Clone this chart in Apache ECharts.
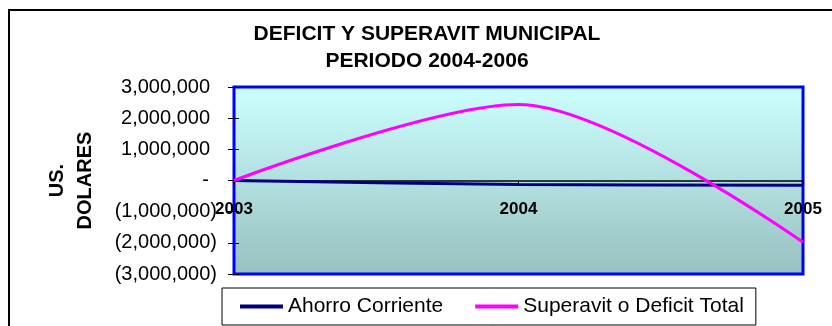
<!DOCTYPE html>
<html>
<head>
<meta charset="utf-8">
<script src="https://cdn.jsdelivr.net/npm/echarts@6/dist/echarts.min.js"></script>
<style>
  html, body { margin: 0; padding: 0; background: #ffffff; }
  #chart { width: 832px; height: 326px; }
</style>
</head>
<body>
<div id="chart"></div>
<script>
// Years on the horizontal axis
const years = ['2003', '2004', '2005'];
// Current savings (US$)
const ahorroCorriente = [0, -130000, -150000];
// Total surplus / deficit (US$)
const superavitTotal = [0, 2440000, -1980000];
// Value axis range and step
const yMin = -3000000;
const yMax = 3000000;
const yStep = 1000000;

const FONT = '"Liberation Sans", Arial, sans-serif';

// Plot area box
const GRID = { left: 234, right: 29, top: 87, bottom: 52 };
const CHART_H = 326;
// Category axis sits on the zero line: shift it up from the bottom edge
const plotH = CHART_H - GRID.top - GRID.bottom;
const zeroOffset = -plotH * (0 - yMin) / (yMax - yMin);

// Accounting-style number: 1,000,000 / (1,000,000) / -
function accounting(v) {
  if (v === 0) return '{z|-}';
  const s = Math.abs(v).toString().replace(/\B(?=(\d{3})+(?!\d))/g, ',');
  return v < 0 ? '{n|(' + s + ')}' : '{p|' + s + '}';
}

const chart = echarts.init(document.getElementById('chart'), null, { renderer: 'canvas' });

const labelRich = {
  p: { fontFamily: FONT, fontSize: 20, color: '#000', padding: [0, 7, 0, 0] },
  n: { fontFamily: FONT, fontSize: 20, color: '#000' },
  z: { fontFamily: FONT, fontSize: 20, color: '#000', padding: [0, 8, 0, 0] }
};

chart.setOption({
  animation: false,
  backgroundColor: '#ffffff',
  title: {
    text: 'DEFICIT Y SUPERAVIT MUNICIPAL\nPERIODO 2004-2006',
    left: 427,
    top: 21,
    padding: 0,
    textAlign: 'center',
    textStyle: {
      fontFamily: FONT,
      fontWeight: 'bold',
      fontSize: 21,
      lineHeight: 27,
      color: '#000'
    }
  },
  graphic: [{
    type: 'rect',
    shape: { x: 9, y: 10, width: 900, height: 400 },
    style: { fill: null, stroke: '#000', lineWidth: 2 },
    silent: true,
    z: -1
  }],
  legend: {
    left: 222,
    top: 288,
    padding: [8, 12, 8, 18],
    borderColor: '#000',
    borderWidth: 1,
    itemGap: 32,
    itemWidth: 43,
    itemHeight: 4,
    icon: 'rect',
    textStyle: { fontFamily: FONT, fontSize: 21, color: '#000' },
    data: ['Ahorro Corriente', 'Superavit o Deficit Total']
  },
  grid: {
    left: GRID.left,
    right: GRID.right,
    top: GRID.top,
    bottom: GRID.bottom,
    show: true,
    borderColor: '#0000ff',
    borderWidth: 3,
    backgroundColor: {
      type: 'linear', x: 0, y: 0, x2: 0, y2: 1,
      colorStops: [
        { offset: 0, color: '#ccffff' },
        { offset: 1, color: '#98c0c0' }
      ]
    }
  },
  xAxis: {
    type: 'category',
    data: years,
    boundaryGap: false,
    position: 'bottom',
    offset: zeroOffset,
    axisLine: { onZero: false, lineStyle: { color: '#000', width: 1.5 } },
    axisTick: { show: true, length: 4, lineStyle: { color: '#000' } },
    axisLabel: {
      margin: 20,
      fontFamily: FONT,
      fontSize: 17,
      fontWeight: 'bold',
      color: '#000'
    },
    splitLine: { show: false }
  },
  yAxis: [{
    type: 'value',
    min: yMin,
    max: yMax,
    interval: yStep,
    name: 'US.\nDOLARES',
    nameLocation: 'middle',
    nameRotate: 90,
    nameGap: 135,
    nameTextStyle: {
      fontFamily: FONT,
      fontWeight: 'bold',
      fontSize: 20,
      lineHeight: 28,
      color: '#000'
    },
    axisLine: { show: false },
    axisTick: { show: true, length: 6, lineStyle: { color: '#000' } },
    axisLabel: { margin: 17, formatter: accounting, rich: labelRich },
    splitLine: { show: false }
  }, {
    // companion axis: tick marks on the inner side of the plot edge
    type: 'value',
    position: 'left',
    min: yMin,
    max: yMax,
    interval: yStep,
    axisLine: { show: false },
    axisTick: { show: true, inside: true, length: 5, lineStyle: { color: '#000' } },
    axisLabel: { show: false },
    splitLine: { show: false }
  }],
  series: [{
    name: 'Ahorro Corriente',
    type: 'line',
    data: ahorroCorriente,
    smooth: 0.3,
    showSymbol: false,
    symbol: 'none',
    lineStyle: { color: '#000080', width: 3 },
    itemStyle: { color: '#000080' }
  }, {
    name: 'Superavit o Deficit Total',
    type: 'line',
    data: superavitTotal,
    smooth: 0.3,
    showSymbol: false,
    symbol: 'none',
    lineStyle: { color: '#ff00ff', width: 3 },
    itemStyle: { color: '#ff00ff' }
  }]
});
</script>
</body>
</html>
